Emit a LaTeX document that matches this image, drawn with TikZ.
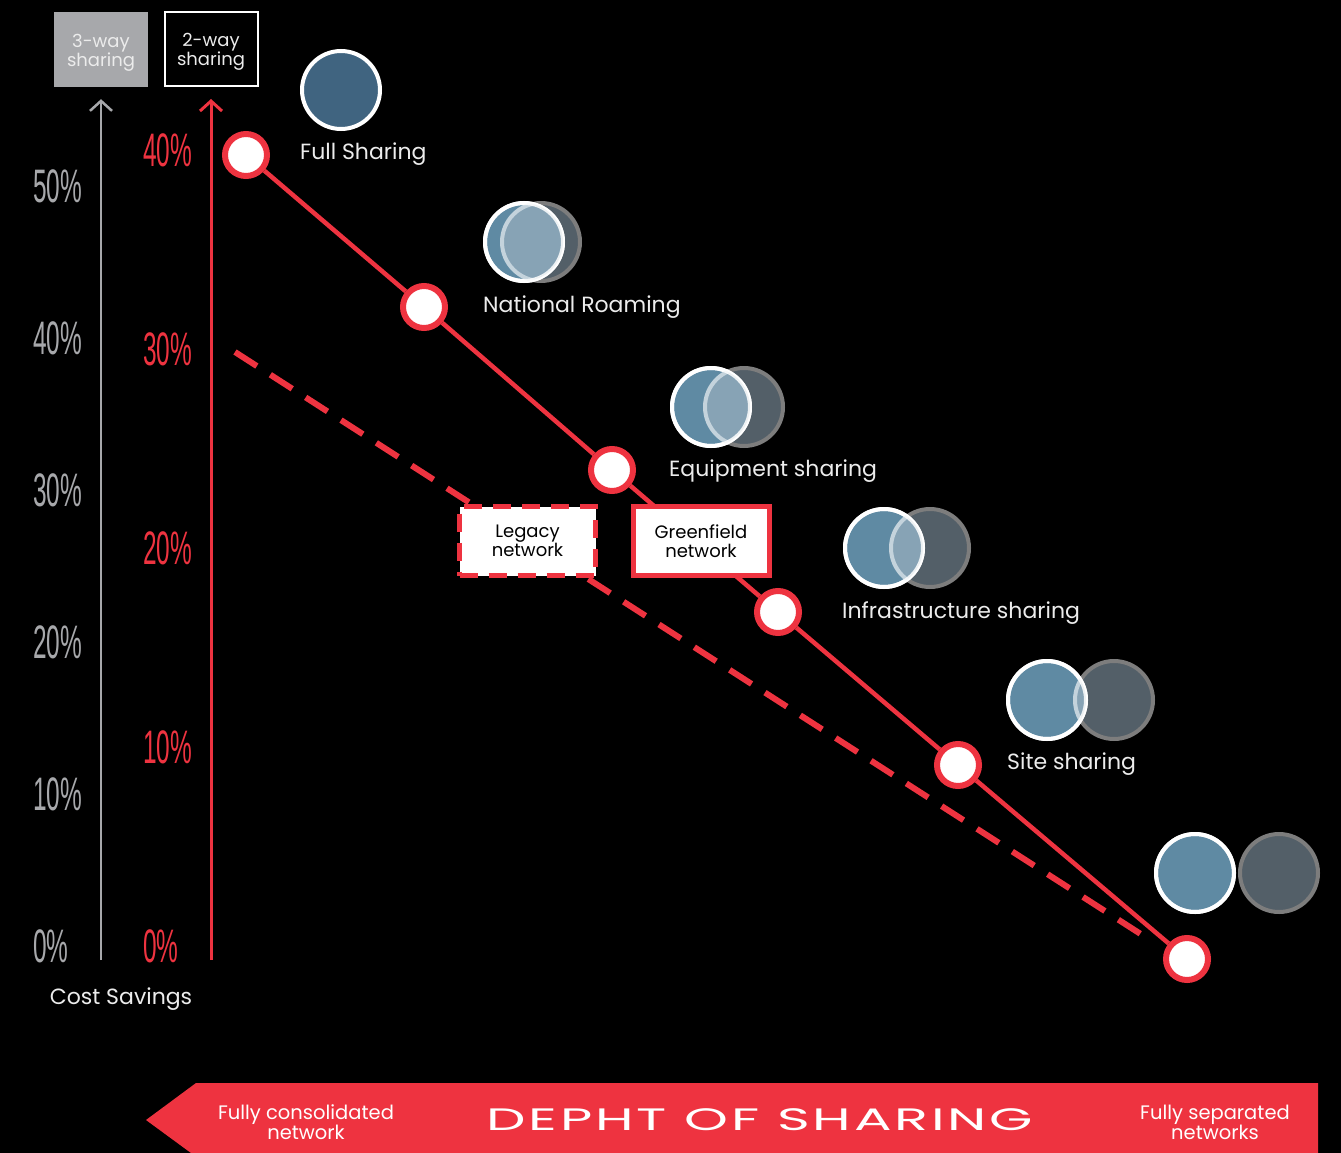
\documentclass[tikz,border=0pt]{standalone}
\usepackage{fontspec}
\setmainfont{Poppins}
\newfontfamily\pctfont[FakeStretch=0.52]{Liberation Sans}
\newfontfamily\widefont[FakeStretch=1.8,LetterSpace=9]{Poppins}
\usetikzlibrary{arrows.meta, positioning}

\definecolor{sharered}{RGB}{238,51,64}
\definecolor{axisgray}{RGB}{167,168,171}
\definecolor{ourblue}{RGB}{95,138,163}
\definecolor{fullblue}{RGB}{64,100,128}
\definecolor{overlapblue}{RGB}{135,163,181}
\definecolor{othergray}{RGB}{83,95,104}
\definecolor{ringgray}{RGB}{125,125,125}
\definecolor{ringlight}{RGB}{196,211,220}
\definecolor{labelwhite}{RGB}{236,236,236}

\begin{document}
\begin{tikzpicture}[x=1pt, y=-1pt, >={Straight Barb[length=10pt,width=22pt]},
    stop/.style={circle, draw=sharered, fill=white, line width=6pt, minimum size=42pt, inner sep=0pt},
    ourc/.style={circle, draw=white, fill=ourblue, line width=4pt, minimum size=78pt, inner sep=0pt},
    otherc/.style={circle, draw=ringgray, fill=othergray, line width=4pt, minimum size=78pt, inner sep=0pt},
    lbl/.style={anchor=base west, inner sep=0pt, text=labelwhite, font=\fontsize{22}{26}\selectfont},
    pctgray/.style={anchor=base west, inner sep=0pt, text=axisgray, font=\pctfont\fontsize{47}{47}\selectfont},
    pctred/.style={pctgray, text=sharered},
    netbox/.style={rectangle, fill=white, draw=sharered, line width=5pt, minimum width=136pt, minimum height=69pt, align=center, text=black, font=\fontsize{18}{19}\selectfont},
    waybox/.style={rectangle, minimum width=94pt, minimum height=75pt},
    waytext/.style={align=center, inner sep=0pt, text=labelwhite, font=\fontsize{18}{17}\selectfont},
    bannertxt/.style={align=center, text=white, font=\fontsize{19.5}{20}\selectfont}]

  % background and banner
  \fill[black] (0,0) rectangle (1341,1153);
  \fill[sharered] (146,1120) -- (196,1083) -- (1318,1083) -- (1318,1153) -- (191,1153) -- cycle;
  \node[bannertxt] (consol) at (306,1122) {Fully consolidated\\network};
  \node[text=white, font=\widefont\fontsize{31}{31}\selectfont] (depth) at (760,1120) {DEPHT OF SHARING};
  \node[bannertxt] (separ) at (1215,1122) {Fully separated\\networks};

  % axes
  \node[waybox, fill=axisgray] (three) at (101,49.5) {};
  \node[waybox, draw=white, line width=2pt, minimum width=93pt, minimum height=74pt] (two) at (211,49) {};
  \node[waytext] (threeT) at ([yshift=-3pt]three.center) {3-way\\sharing};
  \node[waytext] (twoT) at ([yshift=-3pt]two.center) {2-way\\sharing};
  \coordinate (gbot) at (101,960);
  \coordinate (rbot) at (211,960);
  \draw[axisgray, line width=2.5pt, ->, shorten >=12pt] (gbot) -- (three);
  \draw[sharered, line width=3pt, ->, shorten >=12pt] (rbot) -- (two);
  \foreach \v [count=\i from 0] in {0,10,...,50}
    \node[pctgray] (g\v) at (33,962-152*\i) {\v\%};
  \foreach \v [count=\i from 0] in {0,10,...,40}
    \node[pctred] (r\v) at (143,962-198.75*\i) {\v\%};
  \node[lbl, anchor=base] (cost) at (121,1004) {Cost Savings};

  % legacy path
  \coordinate (dashA) at (235,352);
  \coordinate (dashB) at (1150,940);
  \draw[sharered, line width=6pt, dash pattern=on 26pt off 16pt] (dashA) -- (dashB);

  % greenfield path
  \node[stop] (p1) at (246,155) {};
  \node[stop] (p2) at (424,307) {};
  \node[stop] (p3) at (612,470) {};
  \node[stop] (p4) at (778,612) {};
  \node[stop] (p5) at (958,765) {};
  \node[stop] (p6) at (1187,959) {};
  \draw[sharered, line width=4.5pt] (p1) -- (p2) -- (p3) -- (p4) -- (p5) -- (p6);

  \node[netbox, dash pattern=on 18pt off 11pt] (legacy) at (527.5,541) {Legacy\\network};
  \node[netbox] (green) at (701,541) {Greenfield\\network};

  % sharing models
  \node[ourc, fill=fullblue] (full) at (341,90) {};
  \foreach \nm/\bx/\gx/\cy in {roam/524/541/242, equip/711/744/407, infra/884/930/548, site/1047/1114/700, sep/1195/1279/873}{
    \node[otherc] (\nm-g) at (\gx,\cy) {};
    \node[ourc] (\nm-b) at (\bx,\cy) {};
    \begin{scope}
      \clip (\nm-b.center) circle[radius=39pt];
      \fill[overlapblue] (\nm-g.center) circle[radius=39pt];
      \draw[ringlight, line width=4pt] (\nm-g.center) circle[radius=39pt];
    \end{scope}
    \draw[white, opacity=0.85, line width=4pt] (\nm-b.center) circle[radius=39pt];
  }
  \node[lbl] (fullL) at (300,160) {Full Sharing};
  \node[lbl] (roamL) at (483,312) {National Roaming};
  \node[lbl] (equipL) at (669,476) {Equipment sharing};
  \node[lbl] (infraL) at (842,618) {Infrastructure sharing};
  \node[lbl] (siteL) at (1007,769) {Site sharing};
\end{tikzpicture}
\end{document}
